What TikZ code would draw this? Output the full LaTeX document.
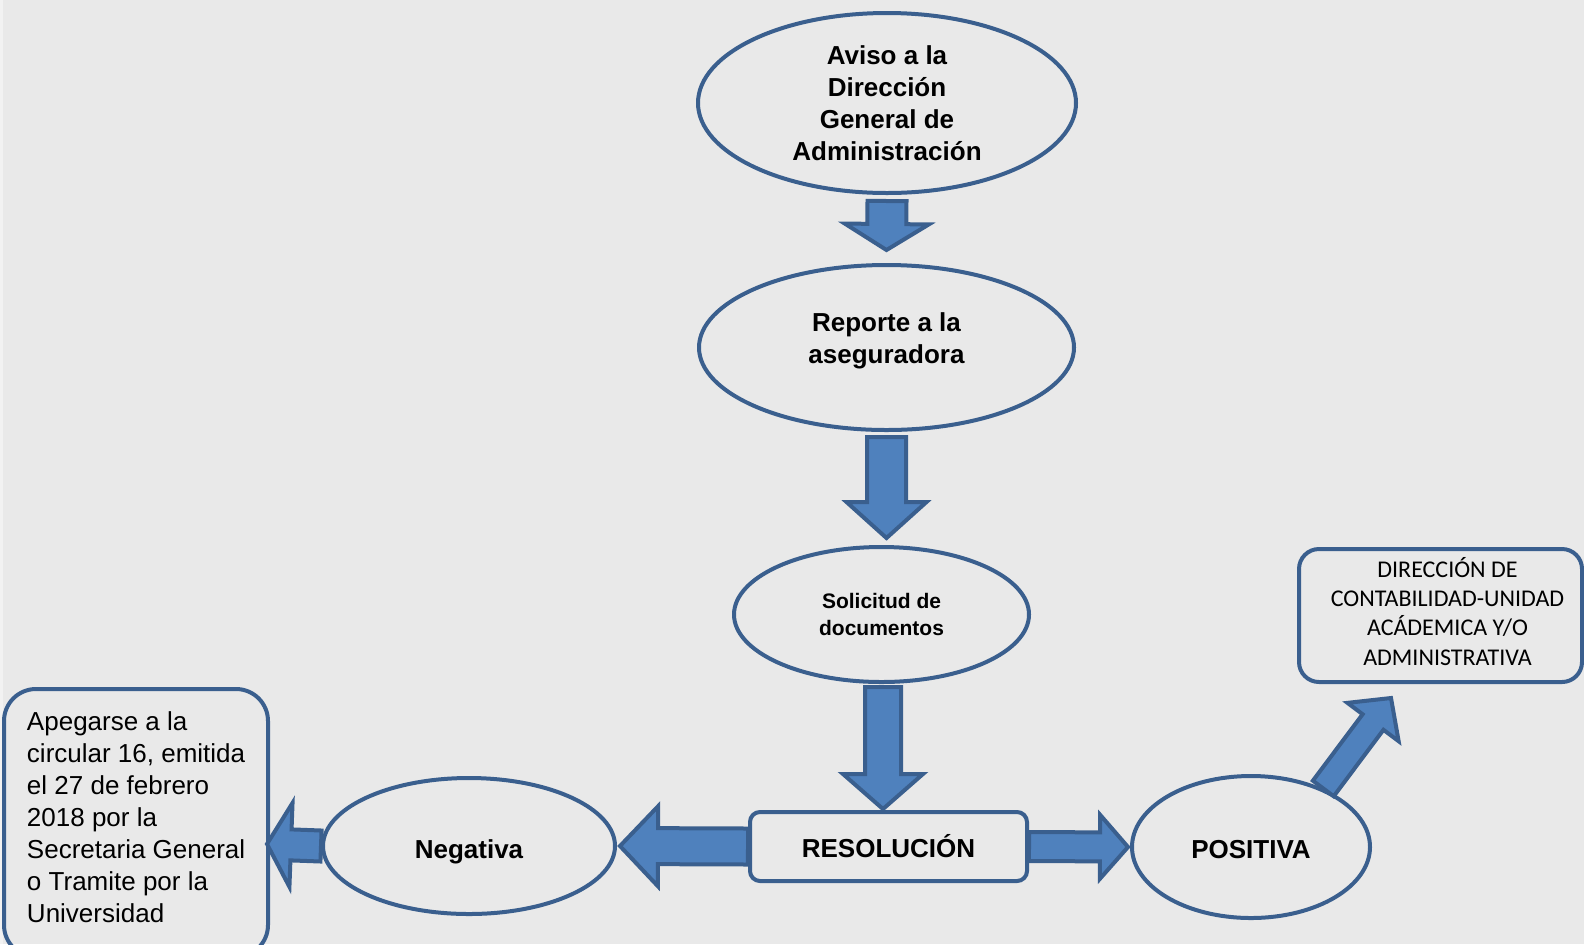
\documentclass[tikz,border=0pt]{standalone}
\usepackage{fontspec}
\setmainfont{Liberation Sans}
\newfontfamily\calibri{Carlito}
\usetikzlibrary{calc,shapes.geometric}
\definecolor{bg}{HTML}{E9E9E9}
\definecolor{bgstrip}{HTML}{F2F2F2}
\definecolor{edge}{HTML}{3A5F8E}
\definecolor{arrowfill}{HTML}{4F81BD}
% #1 start, #2 tip, #3 shaft half width, #4 head half width, #5 head length
\newcommand\blockarr[5]{%
  \coordinate (ba-s) at #1;
  \coordinate (ba-e) at #2;
  \coordinate (ba-h) at ($(ba-e)!#5!(ba-s)$);
  \draw[barrow] ($(ba-s)!#3!90:(ba-e)$) -- ($(ba-h)!#3!90:(ba-e)$)
     -- ($(ba-h)!#4!90:(ba-e)$) -- (ba-e) -- ($(ba-h)!#4!-90:(ba-e)$)
     -- ($(ba-h)!#3!-90:(ba-e)$) -- ($(ba-s)!#3!-90:(ba-e)$) -- cycle;}
% shift the ink of a text block without changing its extent
\newcommand\shiftink[3]{\hspace*{#1}\raisebox{#2}[\height][\depth]{#3}}
\begin{document}
\begin{tikzpicture}[x=0.5pt,y=-0.5pt,
  oval/.style={ellipse, draw=edge, line width=2pt, inner sep=0pt, align=center,
    font=\bfseries\fontsize{13}{16}\selectfont},
  resbox/.style={rectangle, rounded corners=5pt, draw=edge, line width=2pt, inner sep=0pt,
    font=\bfseries\fontsize{13}{16}\selectfont},
  infobox/.style={rectangle, draw=edge, line width=2pt},
  barrow/.style={draw=edge, fill=arrowfill, line width=2pt, line join=miter}]
\fill[bg] (0,0) rectangle (1584,944);
\fill[bgstrip] (0,0) rectangle (3,944);
\useasboundingbox (0,0) rectangle (1584,944);
\begin{scope}
\clip (0,0) rectangle (1584,944);
% nodes
\node[oval, minimum width=189pt, minimum height=90pt] (e1) at (887,103)
  {Aviso a la\\Dirección\\General de\\Administración};
\node[oval, minimum width=187.5pt, minimum height=82.5pt] (e2) at (886.5,347.5)
  {\shiftink{0pt}{3pt}{\begin{tabular}{@{}c@{}}Reporte a la\\aseguradora\end{tabular}}};
\node[oval, minimum width=147.5pt, minimum height=67.5pt,
  font=\bfseries\fontsize{10.5}{13.1}\selectfont] (e3) at (881.5,614.5)
  {Solicitud de\\documentos};
\node[resbox, minimum width=138.5pt, minimum height=34.5pt] (res) at (888.5,846.5) {RESOLUCIÓN};
\node[oval, minimum width=146pt, minimum height=68pt] (neg) at (469,846)
  {\shiftink{0pt}{-3pt}{Negativa}};
\node[oval, minimum width=119pt, minimum height=71pt] (pos) at (1251,847)
  {\shiftink{0pt}{-1.5pt}{POSITIVA}};
\node[infobox, rounded corners=10pt, inner sep=0pt, minimum width=141.5pt, minimum height=66.5pt,
  font=\calibri\fontsize{12}{14.6}\selectfont] (rbox) at (1440.5,615.5)
  {\shiftink{7pt}{0pt}{\begin{tabular}{@{}c@{}}DIRECCIÓN DE\\CONTABILIDAD-UNIDAD\\ACÁDEMICA Y/O\\ADMINISTRATIVA\end{tabular}}};
\node[infobox, rounded corners=16pt, anchor=north west, inner xsep=6pt, inner ysep=0pt,
  minimum width=132pt, minimum height=134pt,
  font=\fontsize{13}{16}\selectfont] (lbox) at (2,687)
  {\raisebox{1.5pt}[\height][\depth]{\makebox[120pt][l]{\hspace{5.5pt}\begin{tabular}{@{}l@{}}Apegarse a la\\circular 16, emitida\\el 27 de febrero\\2018 por la\\Secretaria General\\o Tramite por la\\Universidad\end{tabular}}}};
% block arrows
\blockarr{($(e1.south)+(0,6)$)}{($(e2.north)+(0,-13)$)}{9.75pt}{21pt}{13pt}
\blockarr{($(e2.south)+(0,5)$)}{($(e2.south |- e3.north)+(0,-7)$)}{9.75pt}{20pt}{18pt}
\blockarr{($(e3.south)+(1.5,3)$)}{($(e3.south |- res.north)+(1.5,-1)$)}{9pt}{20pt}{17.5pt}
\blockarr{(res.west)}{($(neg.east)+(3,0)$)}{9pt}{20pt}{19pt}
\blockarr{(res.east)}{($(pos.west)+(-2,0)$)}{7.25pt}{16pt}{14pt}
\blockarr{(neg.west)}{($(lbox.east |- neg.west)+(-3,-2)$)}{7.75pt}{21pt}{12pt}
\blockarr{(pos.39)}{($(rbox.south west)+(94,14)$)}{6.5pt}{16pt}{15pt}
\end{scope}
\end{tikzpicture}
\end{document}
